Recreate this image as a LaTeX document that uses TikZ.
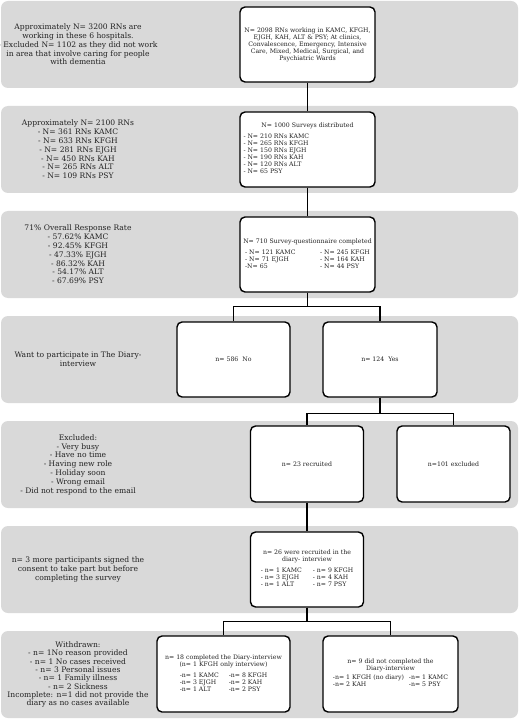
\documentclass[tikz,border=0pt]{standalone}
\usepackage{fontspec}
\setmainfont{DejaVu Serif}
\usepackage{tikz}
\usetikzlibrary{positioning}
\definecolor{bandgray}{HTML}{D9D9D9}
\definecolor{inktext}{HTML}{222222}

\begin{document}
\begin{tikzpicture}[x=1pt,y=-1pt,
  band/.style={fill=bandgray,rounded corners=7pt,
               minimum width=517pt,minimum height=87pt,inner sep=0pt},
  lbl/.style={align=center,text=inktext,font=\fontsize{7.6}{8.8}\selectfont},
  box/.style={draw,line width=1.4pt,rounded corners=5pt,fill=white,
              minimum width=135pt,minimum height=75pt,align=center,
              inner sep=3pt,text=inktext,font=\fontsize{6.2}{7}\selectfont},
  conn/.style={line width=1.4pt}
]
\useasboundingbox (0,0) rectangle (520,719);

% grey stages
\foreach \k in {0,...,6}
  \node[band] (band\k) at (259.5,44.5+105*\k) {};

% stage descriptions
\node[lbl] (lpop) at (78,44.5) {Approximately N= 3200 RNs are\\ working in these 6 hospitals.\\
  - Excluded N= 1102 as they did not work\\ in area that involve caring for people\\ with dementia};
\node[lbl] (lrns) at (78,149.5) {Approximately N= 2100 RNs\\ - N= 361 RNs KAMC\\ - N= 633 RNs KFGH\\
  - N= 281 RNs EJGH\\ - N= 450 RNs KAH\\ - N= 265 RNs ALT\\ - N= 109 RNs PSY};
\node[lbl] (lrate) at (78,254.5) {71\% Overall Response Rate\\ - 57.62\% KAMC\\ - 92.45\% KFGH\\
  - 47.33\% EJGH\\ - 86.32\% KAH\\ - 54.17\% ALT\\ - 67.69\% PSY};
\node[lbl] (lwant) at (78,359.5) {Want to participate in The Diary-\\ interview};
\node[lbl] (lexcl) at (78,464.5) {Excluded:\\ - Very busy\\ - Have no time\\ - Having new role\\
  - Holiday soon\\ - Wrong email\\ - Did not respond to the email};
\node[lbl] (lmore) at (78,569.5) {n= 3 more participants signed the\\ consent to take part but before\\
  completing the survey};
\node[lbl,font=\fontsize{7.6}{8.3}\selectfont] (lwith) at (78,674.5) {Withdrawn:\\ - n= 1No reason provided\\ - n= 1 No cases received\\
  - n= 3 Personal issues\\ - n= 1 Family illness\\ - n= 2 Sickness\\
  Incomplete: n=1 did not provide the\\ diary as no cases available};

% flow boxes
\node[box] (staff) at (307.5,44.5) {N= 2098 RNs working in KAMC, KFGH,\\ EJGH, KAH, ALT \& PSY; At clinics,\\
  Convalescence, Emergency, Intensive\\ Care, Mixed, Medical, Surgical, and\\ Psychiatric Wards};
\node[box] (dist) at (307.5,149.5) {N= 1000 Surveys distributed\\[4pt]
  \begin{tabular}{@{}p{128pt}@{}}
  - N= 210 RNs KAMC\\ - N= 265 RNs KFGH\\ - N= 150 RNs EJGH\\
  - N= 190 RNs KAH\\ - N= 120 RNs ALT\\ - N= 65 PSY
  \end{tabular}};
\node[box] (done) at (307.5,254.5) {N= 710 Survey-questionnaire completed\\[4pt]
  \begin{tabular}{@{}p{75pt}@{}l@{}}
  - N= 121 KAMC & - N= 245 KFGH\\ - N= 71 EJGH & - N= 164 KAH\\ -N= 65 & - N= 44 PSY
  \end{tabular}};
\node[box,minimum width=113pt] (no) at (233.5,359.5) {n= 586\ \ No};
\node[box,minimum width=114pt] (yes) at (380,359.5) {n= 124\ \ Yes};
\node[box,minimum width=113pt,minimum height=76pt] (recr) at (307,464) {n= 23 recruited};
\node[box,minimum width=113pt,minimum height=76pt] (excl) at (453.5,464) {n=101 excluded};
\node[box,minimum width=113pt] (diary) at (307,569.5) {n= 26 were recruited in the\\ diary- interview\\[4pt]
  \begin{tabular}{@{}p{52pt}@{}l@{}}
  - n= 1 KAMC & - n= 9 KFGH\\ - n= 3 EJGH & - n= 4 KAH\\ - n= 1 ALT & - n= 7 PSY
  \end{tabular}};
\node[box,minimum width=133pt,minimum height=76pt] (compl) at (223.5,674) {n= 18 completed the Diary-interview\\
  (n= 1 KFGH only interview)\\[4pt]
  \begin{tabular}{@{}p{49pt}@{}l@{}}
  -n= 1 KAMC & -n= 8 KFGH\\ -n= 3 EJGH & -n= 2 KAH\\ -n= 1 ALT & -n= 2 PSY
  \end{tabular}};
\node[box,minimum width=135pt,minimum height=76pt] (notc) at (390.5,674) {n= 9 did not completed the\\
  Diary-interview\\[2pt]
  \begin{tabular}{@{}p{76pt}@{}l@{}}
  -n= 1 KFGH (no diary) & -n= 1 KAMC\\ -n= 2 KAH & -n= 5 PSY
  \end{tabular}};

% connectors
\draw[conn] (staff) -- (dist);
\draw[conn] (dist) -- (done);
\draw[conn] (done.south) -- ++(0,14) -| (no.north);
\draw[conn] (done.south) -- ++(0,14) -| (yes.north);
\draw[conn] (yes.south) -- ++(0,16) -| (recr.north);
\draw[conn] (yes.south) -- ++(0,16) -| (excl.north);
\draw[conn] (recr) -- (diary);
\draw[conn] (diary.south) -- ++(0,14) -| (compl.north);
\draw[conn] (diary.south) -- ++(0,14) -| (notc.north);
\end{tikzpicture}
\end{document}
